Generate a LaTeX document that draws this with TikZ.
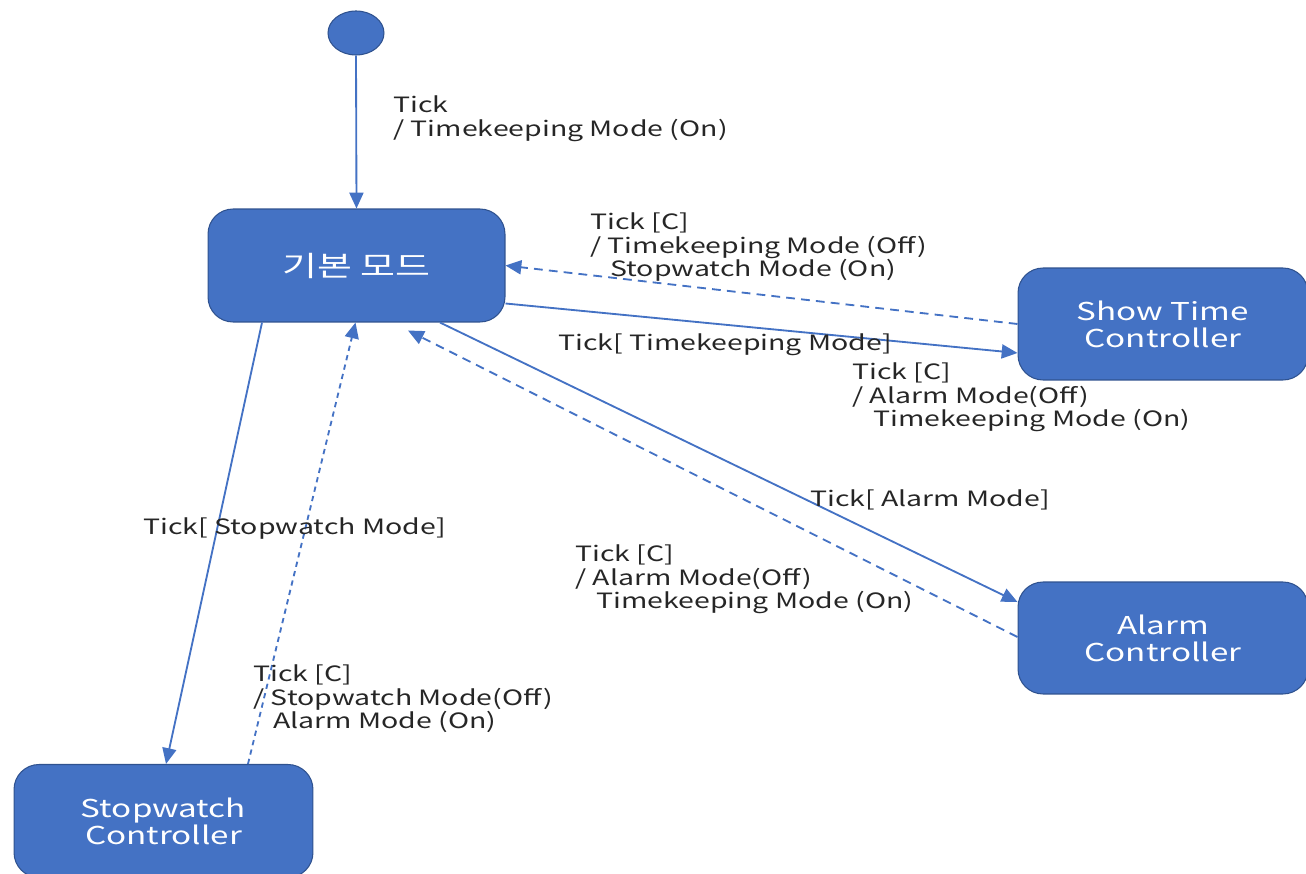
\documentclass[tikz,border=0pt]{standalone}
\usepackage{fontspec}
\setmainfont{Noto Sans CJK KR}[FakeStretch=1.35]
\usetikzlibrary{arrows.meta,shapes.geometric}
\definecolor{boxblue}{RGB}{68,114,196}
\definecolor{boxedge}{RGB}{47,82,143}
\tikzset{
  statebox/.style={rectangle, rounded corners=0.5cm, fill=boxblue, draw=boxedge,
    line width=0.6pt, text=white, align=center, minimum width=5.94cm,
    minimum height=2.26cm, font=\fontsize{14}{15.3}\selectfont},
  trans/.style={draw=boxblue, line width=1.05pt, -{Triangle[length=9pt,width=8pt]}},
  back/.style={trans, dash pattern=on 5pt off 3.5pt},
  guard/.style={anchor=north west, inner sep=0pt, align=left,
    font=\fontsize{12}{13.6}\selectfont, text=black!85}
}
\begin{document}
\begin{tikzpicture}[x=0.02cm,y=-0.02cm]
  \useasboundingbox (0,0) rectangle (1306,874);
  \clip (0,0) rectangle (1306,874);

  % Marking initial state
  \node [ellipse, fill=boxblue, draw=boxedge, line width=0.6pt,
    minimum width=1.12cm, minimum height=0.88cm] (init) at (356,33) {};

  % Marking states
  \node [statebox, font=\fontsize{16}{18}\selectfont] (base) at (356.5,265.5) {기본 모드};
  \node [statebox, minimum width=5.8cm, minimum height=2.24cm] (show) at (1163,324) {Show Time\\Controller};
  \node [statebox, minimum width=5.8cm, minimum height=2.24cm] (alarm) at (1163,638) {Alarm\\Controller};
  \node [statebox, minimum width=5.98cm, minimum height=2.26cm] (stop) at (163.5,821) {Stopwatch\\Controller};

  % Drawing arrow init base
  \draw [trans] (init.south) -- (base.north);
  \node [guard] (lInit) at (393,95) {Tick\\/ Timekeeping Mode (On)};

  % Drawing arrow base show and back
  \draw [trans] ([yshift=-0.76cm]base.east) -- ([yshift=-0.58cm]show.west);
  \draw [back] (show.west) -- (base.east);
  \node [guard] (lShowBack) at (590,212) {Tick [C]\\/ Timekeeping Mode (Off)\\\hspace*{0.4cm}Stopwatch Mode (On)};
  \node [guard] (lShow) at (558,333) {Tick[ Timekeeping Mode]};
  \node [guard] (lShowExtra) at (852,362) {Tick [C]\\/ Alarm Mode(Off)\\\hspace*{0.42cm}Timekeeping Mode (On)};

  % Drawing arrow base alarm and back
  \draw [trans] ([xshift=1.67cm]base.south) -- ([yshift=0.72cm]alarm.west);
  \draw [back] ([yshift=0.02cm]alarm.west) -- ([xshift=1.03cm,yshift=-0.16cm]base.south);
  \node [guard] (lAlarm) at (810,489) {Tick[ Alarm Mode]};
  \node [guard] (lAlarmBack) at (575,544) {Tick [C]\\/ Alarm Mode(Off)\\\hspace*{0.42cm}Timekeeping Mode (On)};

  % Drawing arrow base stop and back
  \draw [trans] ([xshift=-1.89cm]base.south) -- ([xshift=0.05cm]stop.north);
  \draw [back, dash pattern=on 3pt off 2.5pt] ([xshift=1.69cm]stop.north) -- ([xshift=-0.02cm]base.south);
  \node [guard] (lStop) at (143,517) {Tick[ Stopwatch Mode]};
  \node [guard] (lStopBack) at (253,664) {Tick [C]\\/ Stopwatch Mode(Off)\\\hspace*{0.4cm}Alarm Mode (On)};
\end{tikzpicture}
\end{document}
